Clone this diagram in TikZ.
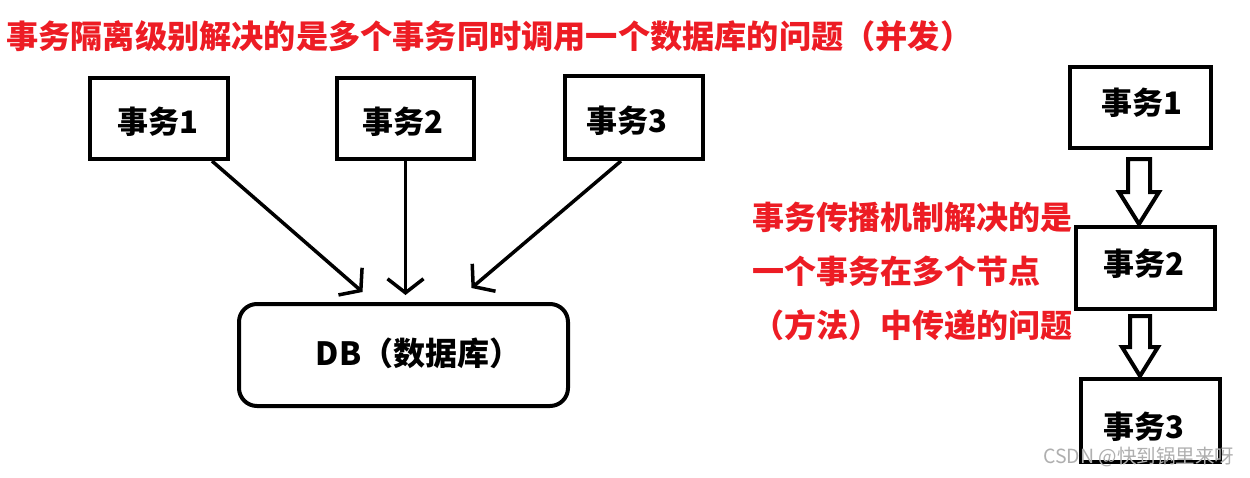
\documentclass[tikz,border=0pt]{standalone}
\usepackage{fontspec}
\setmainfont{Noto Sans CJK SC}
\usetikzlibrary{arrows.meta,calc}
\definecolor{titlered}{RGB}{237,28,36}
\definecolor{wmgray}{RGB}{175,175,175}
\newcommand\shtxt[3]{\raisebox{#2}[\height][\depth]{\kern#1\relax #3\kern-#1\relax}}
\begin{document}
\begin{tikzpicture}[x=1pt,y=-1pt,
  box/.style={draw, line width=4pt, inner sep=0pt, font=\bfseries\fontsize{31}{31}\selectfont},
  arr/.style={line width=3.5pt, -{Straight Barb[length=14pt,width=36pt,line width=3.5pt]}},
  blk/.style={draw, line width=4pt, fill=white, line join=miter},
  redtxt/.style={text=titlered, font=\bfseries\fontsize{32}{54}\selectfont}
]
\useasboundingbox[fill=white] (0,0) rectangle (1250,477);

% title
\node[anchor=west, text=titlered, font=\bfseries\fontsize{32.2}{32.2}\selectfont, inner sep=0pt] (title) at (6,36)
  {事务隔离级别解决的是多个事务同时调用一个数据库的问题（并发）};

% left: three transactions and DB
\node[box, minimum width=138pt, minimum height=81pt] (b1) at (159,118.5) {\shtxt{-1pt}{-3pt}{事务1}};
\node[box, minimum width=137pt, minimum height=81pt] (b2) at (405.5,118.5) {\shtxt{-3pt}{-3pt}{事务2}};
\node[box, minimum width=138pt, minimum height=83pt] (b3) at (634,117.5) {\shtxt{-7pt}{-3pt}{事务3}};
\node[box, rounded corners=18pt, minimum width=329pt, minimum height=102pt, font=\bfseries\fontsize{32}{32}\selectfont] (db) at (403.5,355) {\shtxt{15pt}{2pt}{DB（数据库）}};

\coordinate (t1) at ([xshift=-41pt,yshift=10pt]db.north);
\coordinate (t2) at ([yshift=7pt]db.north);
\coordinate (t3) at ([xshift=68pt,yshift=14pt]db.north);
\draw[arr] ([xshift=53pt]b1.south) -- (t1);
\draw[arr] (b2.south) -- (t2 -| b2.south);
\draw[arr] ([xshift=-13pt]b3.south) -- (t3);

% right: propagation chain
\node[box, minimum width=141pt, minimum height=81pt] (r1) at (1140.5,107.5) {\shtxt{1pt}{5pt}{事务1}};
\node[box, minimum width=139pt, minimum height=82pt] (r2) at (1145.5,268) {\shtxt{-2pt}{4pt}{事务2}};
\node[box, minimum width=139pt, minimum height=83pt] (r3) at (1150.5,420.5) {\shtxt{-7pt}{-6pt}{事务3}};

\draw[blk] let \p1=([xshift=-1.5pt,yshift=-9pt]r1.south), \p2=(r2.north) in
  (\x1-11pt,\y1) -- (\x1+11pt,\y1) -- (\x1+11pt,\y2+33pt) -- (\x1+20pt,\y2+33pt)
  -- (\x1,\y2+1pt) -- (\x1-20pt,\y2+33pt) -- (\x1-11pt,\y2+33pt) -- cycle;
\draw[blk] let \p1=([xshift=-5.5pt,yshift=-5pt]r2.south), \p2=(r3.north) in
  (\x1-10pt,\y1) -- (\x1+10pt,\y1) -- (\x1+10pt,\y2+30pt) -- (\x1+18pt,\y2+30pt)
  -- (\x1,\y2+1pt) -- (\x1-18pt,\y2+30pt) -- (\x1-10pt,\y2+30pt) -- cycle;

\node[redtxt, align=left, anchor=west, inner sep=0pt] (prop) at (752,271)
  {事务传播机制解决的是\\一个事务在多个节点\\（方法）中传递的问题};

% watermark
\node[anchor=west, text=wmgray, font=\fontsize{19.5}{19.5}\selectfont, inner sep=0pt] (wm) at (1043,457) {CSDN @快到锅里来呀};
\end{tikzpicture}
\end{document}
